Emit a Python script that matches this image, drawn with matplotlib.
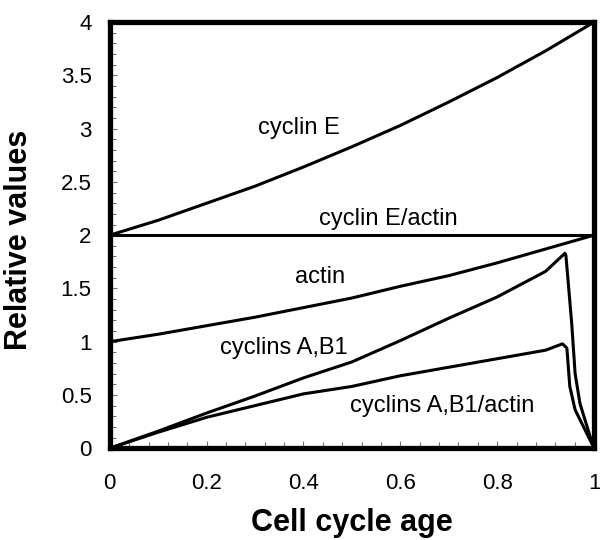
import matplotlib.pyplot as plt
from matplotlib.ticker import MultipleLocator, FuncFormatter

plt.rcParams['font.family'] = ['Liberation Sans', 'DejaVu Sans']

# values
age = [0.0, 0.1, 0.2, 0.3, 0.4, 0.5, 0.6, 0.7, 0.8, 0.9, 1.0]
cyclin_e = [2.0, 2.14, 2.30, 2.46, 2.64, 2.83, 3.03, 3.25, 3.48, 3.73, 4.0]
cyclin_e_actin = [2.0, 2.0, 2.0, 2.0, 2.0, 2.0, 2.0, 2.0, 2.0, 2.0, 2.0]
actin = [1.0, 1.07, 1.15, 1.23, 1.32, 1.41, 1.52, 1.62, 1.74, 1.87, 2.0]

ab_age = [0.0, 0.1, 0.2, 0.3, 0.4, 0.5, 0.6, 0.7, 0.8, 0.9, 0.94,
          0.942, 0.954, 0.961, 0.971, 0.992, 1.0]
cyclins_ab = [0.0, 0.16, 0.33, 0.49, 0.66, 0.81, 1.01, 1.22, 1.42, 1.66, 1.83,
              1.81, 1.17, 0.70, 0.42, 0.11, 0.0]

ratio_age = [0.0, 0.1, 0.2, 0.3, 0.4, 0.5, 0.6, 0.7, 0.8, 0.9, 0.935,
             0.944, 0.950, 0.961, 0.985, 1.0]
cyclins_ab_actin = [0.0, 0.15, 0.29, 0.40, 0.51, 0.58, 0.68, 0.76, 0.84, 0.92, 0.98,
                    0.94, 0.58, 0.36, 0.14, 0.0]

fig = plt.figure(figsize=(6, 5.4), dpi=100)
ax = fig.add_axes([0.183, 0.170, 0.807, 0.789])

lw = 2.2
ax.plot(age, cyclin_e, color='black', lw=lw)
ax.plot(age, cyclin_e_actin, color='black', lw=lw)
ax.plot(age, actin, color='black', lw=lw)
ax.plot(ab_age, cyclins_ab, color='black', lw=lw)
ax.plot(ratio_age, cyclins_ab_actin, color='black', lw=lw)

fs = 17
ax.text(0.39, 3.01, 'cyclin E', fontsize=fs, ha='center', va='center')
ax.text(0.576, 2.15, 'cyclin E/actin', fontsize=fs, ha='center', va='center')
ax.text(0.434, 1.61, 'actin', fontsize=fs, ha='center', va='center')
ax.text(0.36, 0.94, 'cyclins A,B1', fontsize=fs, ha='center', va='center')
ax.text(0.687, 0.40, 'cyclins A,B1/actin', fontsize=fs, ha='center', va='center')

ax.set_xlim(0, 1)
ax.set_ylim(0, 4)
ax.xaxis.set_major_locator(MultipleLocator(0.2))
ax.xaxis.set_minor_locator(MultipleLocator(0.04))
ax.yaxis.set_major_locator(MultipleLocator(0.5))
ax.yaxis.set_minor_locator(MultipleLocator(0.1))
fmt = FuncFormatter(lambda v, p: f'{v:g}')
ax.xaxis.set_major_formatter(fmt)
ax.yaxis.set_major_formatter(fmt)

ax.tick_params(which='both', direction='in', color='0.45', width=0.8, labelsize=16)
ax.tick_params(which='major', length=5)
ax.tick_params(which='minor', length=4)
ax.tick_params(axis='x', pad=18)
ax.tick_params(axis='y', pad=13)

for s in ax.spines.values():
    s.set_linewidth(3.8)

ax.set_xlabel('Cell cycle age', fontsize=22, fontweight='bold')
ax.set_ylabel('Relative values', fontsize=22, fontweight='bold')
ax.xaxis.set_label_coords(0.5, -0.141)
ax.yaxis.set_label_coords(-0.156, 0.49)

fig.savefig('out.png', dpi=100)
